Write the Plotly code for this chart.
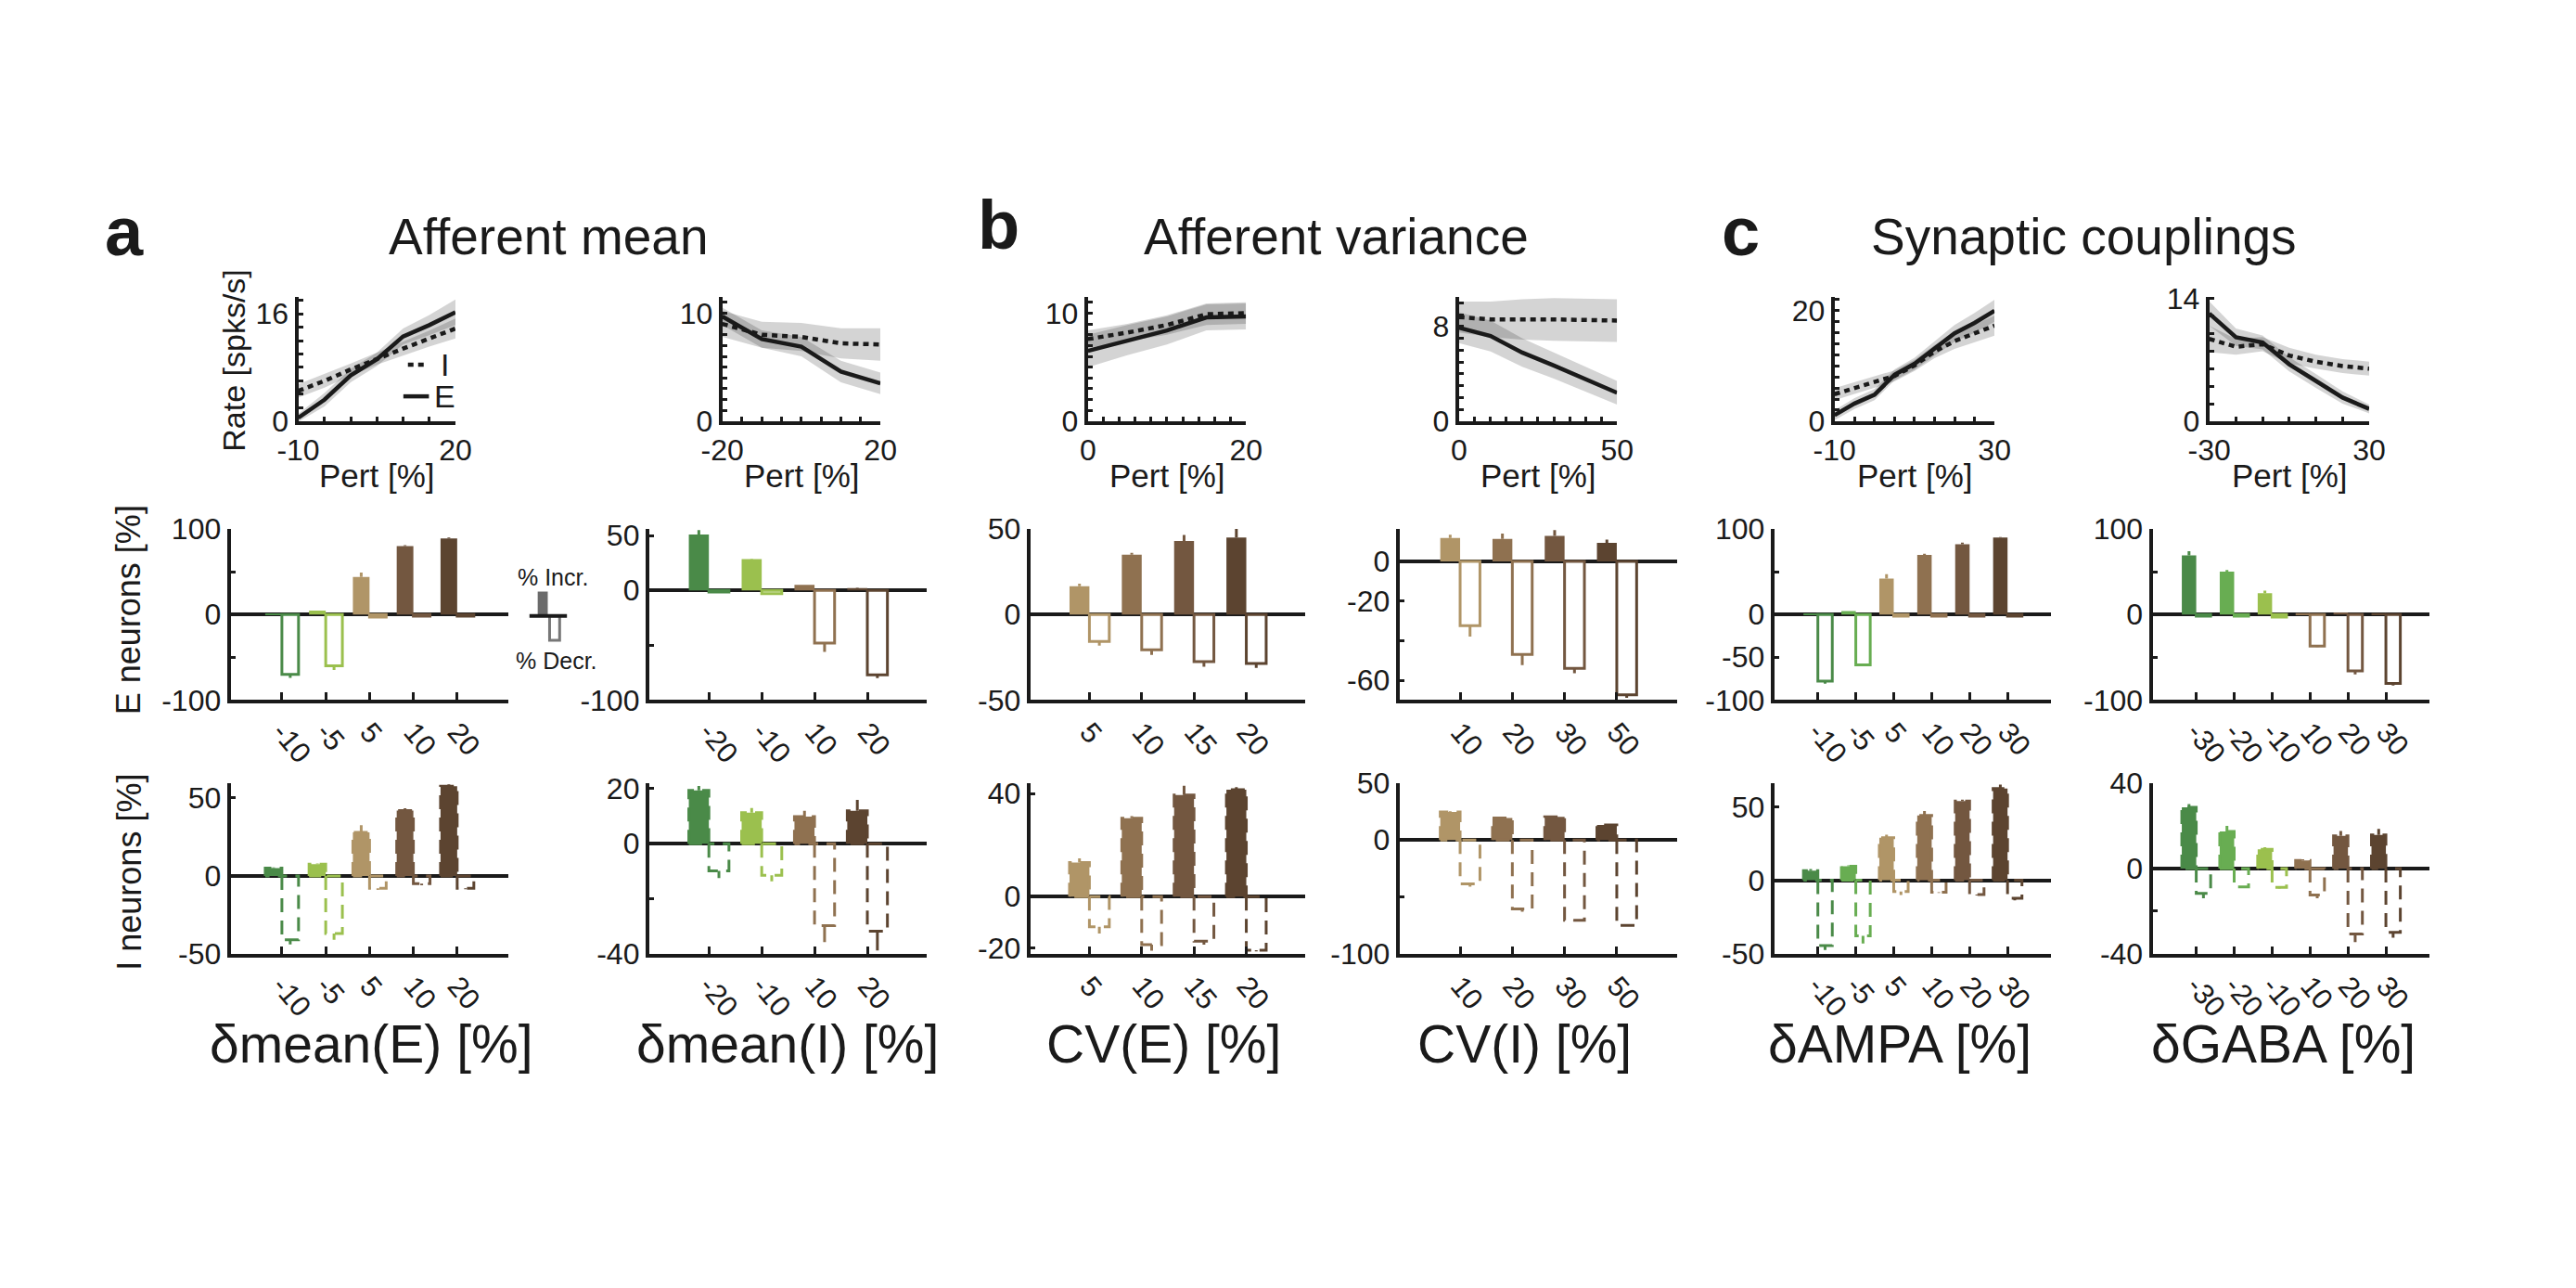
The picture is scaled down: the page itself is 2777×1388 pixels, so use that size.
import plotly.graph_objects as go

W, H = 2777, 1388
FONT = "Liberation Sans, Arial, Helvetica, sans-serif"
INK = "#1a1a1a"

# ---------------- colours ----------------
G1, G2, G3 = "#4a8a48", "#68ad52", "#9bc04e"
B1, B2, B3, B4 = "#b09567", "#8f7150", "#735740", "#5c4430"

# ---------------- data: firing rate vs perturbation (top row) ----------------
meanE_pert = [-10, -5, 0, 5, 10, 15, 20]
meanE_rateE = [0.5, 3.2, 6.8, 9.2, 12.6, 14.3, 16.2]
meanE_sdE = [0.6, 1.0, 1.0, 1.0, 1.2, 1.5, 1.9]
meanE_rateI = [4.5, 6.0, 7.7, 9.3, 10.8, 12.3, 13.8]
meanE_sdI = [1.0, 1.0, 0.9, 0.9, 1.0, 1.2, 1.5]

meanI_pert = [-20, -10, 0, 10, 20]
meanI_rateE = [9.7, 7.6, 6.9, 4.6, 3.5]
meanI_sdE = [0.8, 0.8, 0.9, 1.0, 1.0]
meanI_rateI = [9.0, 8.0, 7.8, 7.2, 7.1]
meanI_sdI = [1.2, 1.2, 1.3, 1.4, 1.5]

cvE_pert = [0, 5, 10, 15, 20]
cvE_rateE = [6.5, 7.5, 8.4, 9.6, 9.7]
cvE_sdE = [1.5, 1.4, 1.3, 1.2, 1.2]
cvE_rateI = [7.6, 8.2, 8.9, 9.9, 10.0]
cvE_sdI = [0.8, 0.8, 0.9, 1.0, 1.0]

cvI_pert = [0, 10, 20, 30, 50]
cvI_rateE = [7.9, 7.2, 5.8, 4.7, 2.4]
cvI_sdE = [1.3, 1.3, 1.2, 1.1, 1.0]
cvI_rateI = [8.8, 8.6, 8.6, 8.6, 8.5]
cvI_sdI = [1.3, 1.5, 1.7, 1.8, 1.8]

ampa_pert = [-10, -5, 0, 5, 10, 15, 20, 25, 30]
ampa_rateE = [1.1, 3.2, 4.8, 8.4, 10.4, 13.2, 15.9, 17.8, 20.0]
ampa_sdE = [0.9, 1.0, 1.0, 1.0, 1.1, 1.3, 1.5, 1.8, 2.0]
ampa_rateI = [4.9, 6.0, 7.1, 8.2, 10.1, 12.6, 14.5, 15.9, 17.3]
ampa_sdI = [1.1, 1.1, 1.0, 1.0, 1.0, 1.2, 1.4, 1.6, 1.8]

gaba_pert = [-30, -20, -10, 0, 10, 20, 30]
gaba_rateE = [12.3, 9.6, 9.0, 6.5, 4.6, 2.7, 1.4]
gaba_sdE = [1.4, 1.0, 0.8, 0.8, 0.8, 0.7, 0.5]
gaba_rateI = [9.4, 8.5, 8.8, 7.5, 6.8, 6.3, 6.0]
gaba_sdI = [1.5, 0.9, 0.8, 0.9, 0.8, 0.8, 0.8]

# ---------------- data: % neurons increasing / decreasing ----------------
meanE_cats = ["-10", "-5", "5", "10", "20"]
meanE_E_inc = [1, 4.5, 44, 80, 89]
meanE_E_inc_err = [0, 0, 5, 1, 1]
meanE_E_dec = [-70, -60, -3, -2, -2]
meanE_E_dec_err = [4, 5, 0, 0, 0]
meanE_I_inc = [5, 7.5, 28, 42, 57.6]
meanE_I_inc_err = [0.5, 0.5, 4.5, 1.4, 1.1]
meanE_I_dec = [-41, -37, -8, -5, -8]
meanE_I_dec_err = [3, 4, 1, 1, 0.5]

meanI_cats = ["-20", "-10", "10", "20"]
meanI_E_inc = [51, 28.5, 5, 2]
meanI_E_inc_err = [4, 0.5, 0, 0.5]
meanI_E_dec = [-1.5, -3, -48, -77]
meanI_E_dec_err = [0, 0, 8, 3]
meanI_I_inc = [19.4, 11.3, 9.9, 12]
meanI_I_inc_err = [1.6, 1.7, 2.1, 3.9]
meanI_I_dec = [-9.9, -11.5, -29.8, -31.8]
meanI_I_dec_err = [2.6, 2.2, 6, 7]

cvE_cats = ["5", "10", "15", "20"]
cvE_E_inc = [16.5, 35, 43, 45]
cvE_E_inc_err = [1.5, 1, 3.5, 5]
cvE_E_dec = [-15.7, -20.6, -27.5, -28.7]
cvE_E_dec_err = [2.5, 3, 3, 2.5]
cvE_I_inc = [13.2, 30.4, 39.4, 41.5]
cvE_I_inc_err = [1.6, 0.8, 3.6, 1]
cvE_I_dec = [-11.7, -18.7, -17.3, -20.8]
cvE_I_dec_err = [2.6, 2.3, 1.4, 0.5]

cvI_cats = ["10", "20", "30", "50"]
cvI_E_inc = [11.8, 11.4, 12.9, 9.4]
cvI_E_inc_err = [1.7, 2.6, 2.9, 1.6]
cvI_E_dec = [-32.4, -47, -54, -67.4]
cvI_E_dec_err = [5.6, 5.4, 2.5, 1.5]
cvI_I_inc = [24.8, 19.5, 20.5, 13.3]
cvI_I_inc_err = [0.5, 1, 0.5, 0.5]
cvI_I_dec = [-38.6, -60.5, -70.6, -75]
cvI_I_dec_err = [2.4, 2.5, 0.5, 0.5]

ampa_cats = ["-10", "-5", "5", "10", "20", "30"]
ampa_E_inc = [0.5, 4, 42, 69.5, 82, 90]
ampa_E_inc_err = [0, 0, 5, 1.5, 2, 0.5]
ampa_E_dec = [-78, -59, -2, -2, -2, -2]
ampa_E_dec_err = [3, 0, 0, 0, 0, 0]
ampa_I_inc = [6.5, 9.6, 29, 44, 53.8, 62.4]
ampa_I_inc_err = [1.2, 0.6, 2, 3, 1, 2.6]
ampa_I_dec = [-44.5, -37.8, -7.7, -8.2, -9.8, -12.3]
ampa_I_dec_err = [2.9, 5.2, 2.3, 0.5, 0.5, 1.4]

gaba_cats = ["-30", "-20", "-10", "10", "20", "30"]
gaba_E_inc = [69, 50, 25, 1.5, 2.5, 1.5]
gaba_E_inc_err = [5, 2, 3, 0, 0, 0]
gaba_E_dec = [-2, -2, -3, -37, -66, -80.5]
gaba_E_dec_err = [0, 0, 0, 1, 4, 2.5]
gaba_I_inc = [28.7, 17.4, 9, 3.8, 15.3, 15.7]
gaba_I_inc_err = [1.5, 2.6, 1, 0.5, 2.3, 2.9]
gaba_I_dec = [-11.7, -8.6, -8.9, -12.4, -30.7, -30]
gaba_I_dec_err = [2.3, 0.5, 0.5, 1.6, 3.8, 2.5]

# ---------------- layout config (pixel geometry, styles) ----------------
BW = 0.38  # bar width in category units
columns = [
    dict(name="meanE", colors=[G1, G3, B1, B3, B4],
         line_px=(303, 475), bar_px=(229, 533),
         line_x=(-10, 20, 5, [-10, 20]), line_y=(18.5, 2, [0, 16]),
         E_y=(-100, 100, [-100, -50, 0, 50, 100], ["-100", "", "0", "", "100"]),
         I_y=(-50, 59.5, [-50, 0, 50], ["-50", "0", "50"]),
         half=3.17, label="\u03b4mean(E) [%]", label_x=383),
    dict(name="meanI", colors=[G1, G3, B2, B4],
         line_px=(767, 940), bar_px=(687, 991),
         line_x=(-20, 20, 5, [-20, 20]), line_y=(11.5, 1, [0, 10]),
         E_y=(-100, 56, [-100, -50, 0, 50], ["-100", "", "0", "50"]),
         I_y=(-40, 22, [-40, -20, 0, 20], ["-40", "", "0", "20"]),
         half=2.63, label="\u03b4mean(I) [%]", label_x=838),
    dict(name="cvE", colors=[B1, B2, B3, B4],
         line_px=(1167, 1340), bar_px=(1104, 1405),
         line_x=(0, 20, 2, [0, 20]), line_y=(11.5, 1, [0, 10]),
         E_y=(-50, 50, [-50, 0, 50], ["-50", "0", "50"]),
         I_y=(-22.2, 44, [-20, 0, 40], ["-20", "0", "40"]),
         half=2.63, label="CV(E) [%]", label_x=1250),
    dict(name="cvI", colors=[B1, B2, B3, B4],
         line_px=(1573, 1746), bar_px=(1508, 1812),
         line_x=(0, 50, 5, [0, 50]), line_y=(10.5, 1, [0, 8]),
         E_y=(-70, 16.4, [-60, -40, -20, 0], ["-60", "", "-20", "0"]),
         I_y=(-100, 50, [-100, -50, 0, 50], ["-100", "", "0", "50"]),
         half=2.66, label="CV(I) [%]", label_x=1645),
    dict(name="ampa", colors=[G1, G2, B1, B2, B3, B4],
         line_px=(1984, 2159), bar_px=(1918, 2221),
         line_x=(-10, 30, 5, [-10, 30]), line_y=(22.5, 2, [0, 20]),
         E_y=(-100, 100, [-100, -50, 0, 50, 100], ["-100", "-50", "0", "", "100"]),
         I_y=(-50, 66, [-50, 0, 50], ["-50", "0", "50"]),
         half=3.65, label="\u03b4AMPA [%]", label_x=2055),
    dict(name="gaba", colors=[G1, G2, G3, B2, B3, B4],
         line_px=(2394, 2569), bar_px=(2332, 2635),
         line_x=(-30, 30, 10, [-30, 30]), line_y=(14.2, 2, [0, 14]),
         E_y=(-100, 100, [-100, -50, 0, 50, 100], ["-100", "", "0", "", "100"]),
         I_y=(-40, 40, [-40, -20, 0, 40], ["-40", "", "0", "40"]),
         half=3.65, label="\u03b4GABA [%]", label_x=2475),
]
LINE_Y = (310, 447.5)
E_Y = (566.7, 756)
I_Y = (848, 1036.7)

G = globals()
fig = go.Figure()
layout_axes = {}
counter = [0]


def fmt(v):
    return str(int(v)) if float(v).is_integer() else str(v)


def new_axes(xpx, ypx, xrange, yrange, xstyle, ystyle):
    counter[0] += 1
    n = counter[0]
    sfx = "" if n == 1 else str(n)
    base = dict(showline=True, linewidth=4, linecolor=INK, ticks="inside",
                tickwidth=3, tickcolor=INK, showgrid=False, zeroline=False,
                fixedrange=True,
                tickfont=dict(family=FONT, size=32, color=INK))
    xa = dict(base, domain=[xpx[0] / W, xpx[1] / W], range=list(xrange),
              anchor="y" + sfx, **xstyle)
    ya = dict(base, domain=[1 - ypx[1] / H, 1 - ypx[0] / H], range=list(yrange),
              anchor="x" + sfx, **ystyle)
    layout_axes["xaxis" + sfx] = xa
    layout_axes["yaxis" + sfx] = ya
    return "x" + sfx, "y" + sfx


def nums(a, b, step):
    out, v = [], a
    while v <= b + 1e-9:
        out.append(v)
        v += step
    return out


for col in columns:
    nm = col["name"]
    # ---------- top: rate vs perturbation ----------
    x0, x1, xs, xlab = col["line_x"]
    ymax, ys, ylab = col["line_y"]
    xt = nums(x0, x1, xs)
    yt = nums(0, ymax, ys)
    xa, ya = new_axes(
        col["line_px"], LINE_Y, (x0, x1), (0, ymax),
        dict(tickvals=xt, ticktext=[fmt(v) if v in xlab else "" for v in xt], ticklen=5),
        dict(tickvals=yt, ticktext=[fmt(v) if v in ylab else "" for v in yt], ticklen=5),
    )
    pert = G[nm + "_pert"]
    for pop in ("I", "E"):
        r = G[f"{nm}_rate{pop}"]
        s = G[f"{nm}_sd{pop}"]
        up = [m + d for m, d in zip(r, s)]
        lo = [m - d for m, d in zip(r, s)]
        fig.add_trace(go.Scatter(
            x=pert + pert[::-1], y=up + lo[::-1], mode="lines", fill="toself",
            fillcolor="rgba(0,0,0,0.17)", line=dict(width=0), hoverinfo="skip",
            showlegend=False, xaxis=xa, yaxis=ya))
    for pop, dash in (("I", "6px,5px"), ("E", "solid")):
        fig.add_trace(go.Scatter(
            x=pert, y=G[f"{nm}_rate{pop}"], mode="lines",
            line=dict(color=INK, width=4.5, dash=dash),
            showlegend=False, xaxis=xa, yaxis=ya))

    cats = G[nm + "_cats"]
    n = len(cats)
    pos = list(range(1, n + 1))
    c = (n + 1) / 2
    xr = (c - col["half"], c + col["half"])
    bar_xstyle = dict(tickvals=pos, ticktext=cats, ticklen=8, tickangle=50,
                      tickfont=dict(family=FONT, size=31, color=INK))

    # ---------- middle: E neurons ----------
    lo_, hi_, tv, tt = col["E_y"]
    xa, ya = new_axes(col["bar_px"], E_Y, xr, (lo_, hi_), bar_xstyle,
                      dict(tickvals=tv, ticktext=tt, ticklen=5, zeroline=True,
                           zerolinewidth=4, zerolinecolor=INK))
    inc, inc_e = G[nm + "_E_inc"], G[nm + "_E_inc_err"]
    dec, dec_e = G[nm + "_E_dec"], G[nm + "_E_dec_err"]
    for k in range(n):
        colr = col["colors"][k]
        fig.add_trace(go.Bar(
            x=[pos[k] - BW / 2], y=[inc[k]], width=BW,
            marker=dict(color=colr, line=dict(width=0)),
            error_y=dict(type="data", symmetric=False, array=[inc_e[k]],
                         arrayminus=[0], color=colr, thickness=3, width=0),
            showlegend=False, xaxis=xa, yaxis=ya))
        fig.add_trace(go.Bar(
            x=[pos[k] + BW / 2], y=[dec[k]], width=BW,
            marker=dict(color="white", line=dict(color=colr, width=3)),
            error_y=dict(type="data", symmetric=False, array=[0],
                         arrayminus=[dec_e[k]], color=colr, thickness=3, width=0),
            showlegend=False, xaxis=xa, yaxis=ya))

    # ---------- bottom: I neurons (dashed bars) ----------
    lo_, hi_, tv, tt = col["I_y"]
    xa, ya = new_axes(col["bar_px"], I_Y, xr, (lo_, hi_), bar_xstyle,
                      dict(tickvals=tv, ticktext=tt, ticklen=5, zeroline=True,
                           zerolinewidth=4, zerolinecolor=INK))
    inc, inc_e = G[nm + "_I_inc"], G[nm + "_I_inc_err"]
    dec, dec_e = G[nm + "_I_dec"], G[nm + "_I_dec_err"]
    for k in range(n):
        colr = col["colors"][k]
        a0, a1 = pos[k] - BW, pos[k]
        fig.add_trace(go.Scatter(
            x=[a0, a0, a1, a1, a0], y=[0, inc[k], inc[k], 0, 0], mode="lines",
            fill="toself", fillcolor=colr,
            line=dict(color=colr, width=3, dash="15px,9px"),
            showlegend=False, hoverinfo="skip", xaxis=xa, yaxis=ya))
        fig.add_trace(go.Scatter(
            x=[pos[k] - BW / 2] * 2, y=[inc[k], inc[k] + inc_e[k]], mode="lines",
            line=dict(color=colr, width=3), showlegend=False, xaxis=xa, yaxis=ya))
        b0, b1 = pos[k], pos[k] + BW
        fig.add_trace(go.Scatter(
            x=[b0, b0, b1, b1, b0], y=[0, dec[k], dec[k], 0, 0], mode="lines",
            line=dict(color=colr, width=3, dash="15px,9px"),
            showlegend=False, hoverinfo="skip", xaxis=xa, yaxis=ya))
        fig.add_trace(go.Scatter(
            x=[pos[k] + BW / 2] * 2, y=[dec[k], dec[k] - dec_e[k]], mode="lines",
            line=dict(color=colr, width=3), showlegend=False, xaxis=xa, yaxis=ya))


def px(x):
    return x / W


def py(y):
    return 1 - y / H


ann = []


def text(x, y, s, size, bold=False, angle=0, xanchor="center", yanchor="middle"):
    ann.append(dict(x=px(x), y=py(y), xref="paper", yref="paper",
                    text=("<b>%s</b>" % s) if bold else s,
                    showarrow=False, textangle=angle, xanchor=xanchor, yanchor=yanchor,
                    font=dict(family=FONT, size=size, color=INK)))


# panel letters and titles
text(113, 238, "a", 74, bold=True)
text(1069, 230, "b", 74, bold=True)
text(1881, 238, "c", 74, bold=True)
text(577, 243, "Afferent mean", 55)
text(1439, 243, "Afferent variance", 55)
text(2257, 243, "Synaptic couplings", 55)

for col in columns:
    lx = (col["line_px"][0] + col["line_px"][1]) / 2
    text(lx, 508, "Pert [%]", 35)
    text(col["label_x"], 1136, col["label"], 57)

text(233, 380, "Rate [spks/s]", 34, angle=-90)
text(118, 656, "E neurons [%]", 36, angle=-90)
text(118, 946, "I neurons [%]", 36, angle=-90)

# inline legends
text(463, 385, "I", 34)
text(463, 420, "E", 34)
text(582, 620, "% Incr.", 25)
text(586, 712, "% Decr.", 25)

shapes = [
    dict(type="line", xref="paper", yref="paper", x0=px(423), x1=px(445), y0=py(385), y1=py(385),
         line=dict(color=INK, width=4.5, dash="6px,5px")),
    dict(type="line", xref="paper", yref="paper", x0=px(418), x1=px(446), y0=py(420), y1=py(420),
         line=dict(color=INK, width=4.5)),
    dict(type="rect", xref="paper", yref="paper", x0=px(565), x1=px(576), y0=py(663), y1=py(636),
         fillcolor="#6b6b6b", line=dict(width=0)),
    dict(type="rect", xref="paper", yref="paper", x0=px(578), x1=px(589), y0=py(690), y1=py(663),
         fillcolor="white", line=dict(color="#777777", width=3)),
    dict(type="line", xref="paper", yref="paper", x0=px(556), x1=px(597), y0=py(663), y1=py(663),
         line=dict(color=INK, width=4)),
]

fig.update_layout(
    width=W, height=H, margin=dict(l=0, r=0, t=0, b=0),
    paper_bgcolor="white", plot_bgcolor="white", barmode="overlay",
    showlegend=False, annotations=ann, shapes=shapes,
    font=dict(family=FONT, color=INK), **layout_axes)

fig.write_html("out.html", config={"displayModeBar": False},
               post_script="document.body.style.margin='0px';")
